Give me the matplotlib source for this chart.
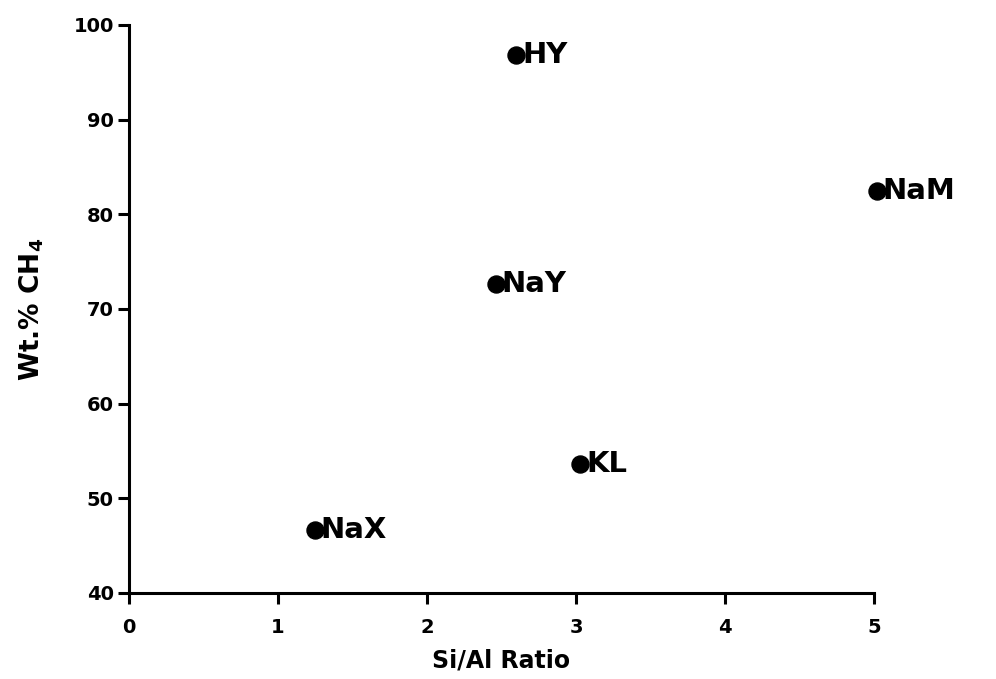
import matplotlib
matplotlib.use("Agg")
import matplotlib.pyplot as plt

#____________________________________________________________________________________________________
# data
zeolites = ["HY", "NaM", "NaY", "KL", "NaX"]
si_al_ratio = [2.60, 5.02, 2.46, 3.03, 1.25]
wt_pct_ch4 = [96.8, 82.5, 72.6, 53.6, 46.7]

x_ticks = [0, 1, 2, 3, 4, 5]
y_ticks = [40, 50, 60, 70, 80, 90, 100]

#____________________________________________________________________________________________________
# plot
plt.rcParams['font.family'] = ['DejaVu Sans']
plt.rcParams['font.weight'] = 'bold'

fig = plt.figure(figsize=(9.96, 6.79), dpi=100)
ax = fig.add_axes([0.1295, 0.1267, 0.748, 0.8365])

ax.scatter(si_al_ratio, wt_pct_ch4, s=150, color='black', zorder=3, clip_on=False)
for name, x, y in zip(zeolites, si_al_ratio, wt_pct_ch4):
    ax.annotate(name, (x, y), xytext=(4, 0), textcoords='offset points',
                ha='left', va='center', fontsize=21, fontweight='bold',
                annotation_clip=False)

ax.set_xlim(0, 5)
ax.set_ylim(40, 100)
ax.set_xticks(x_ticks)
ax.set_yticks(y_ticks)
ax.set_xticklabels([str(t) for t in x_ticks], fontsize=14, fontweight='bold')
ax.set_yticklabels([str(t) for t in y_ticks], fontsize=14, fontweight='bold')

for side in ['top', 'right']:
    ax.spines[side].set_visible(False)
for side in ['left', 'bottom']:
    ax.spines[side].set_linewidth(2.2)
ax.tick_params(axis='both', direction='out', length=8, width=2.2)
ax.tick_params(axis='x', pad=10)
ax.tick_params(axis='y', pad=3)

ax.set_xlabel('Si/Al Ratio', fontsize=17, fontweight='bold', labelpad=8)
ax.set_ylabel('Wt.% CH$_4$', fontsize=19, fontweight='bold', labelpad=20)

fig.savefig('out.png', dpi=100)
